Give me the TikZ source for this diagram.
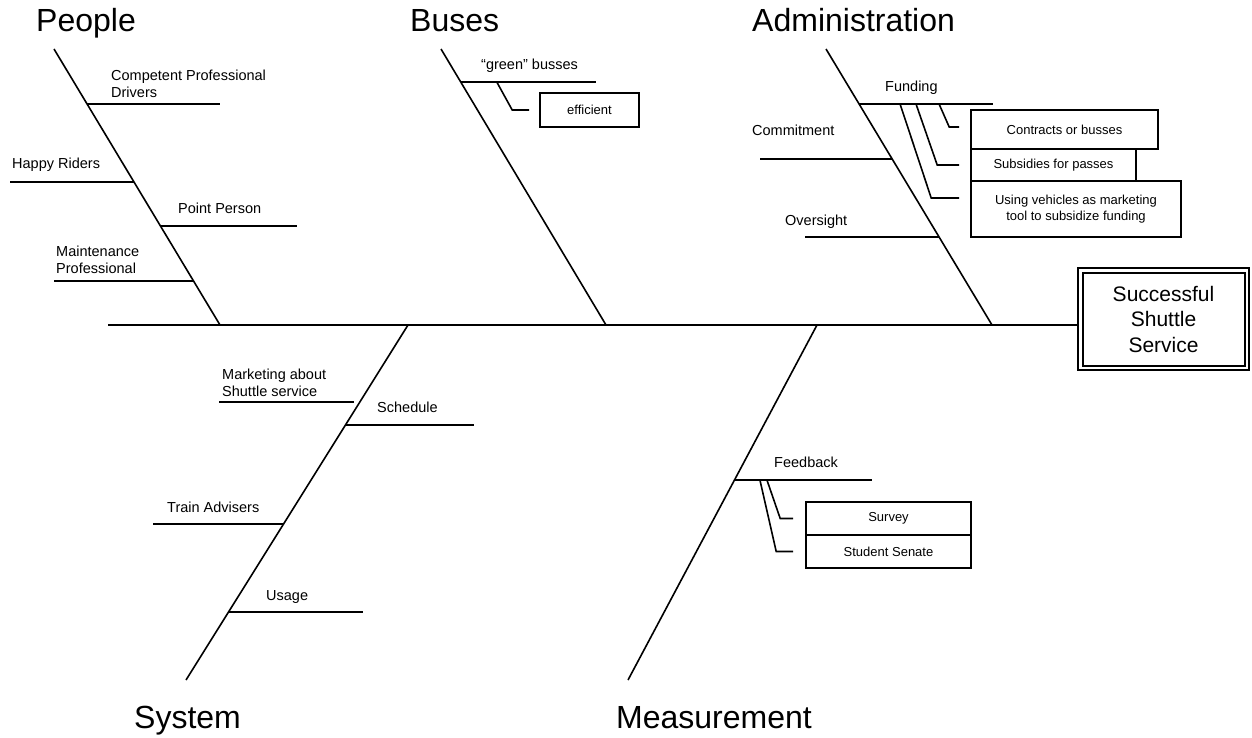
\documentclass[tikz,border=0pt]{standalone}
\usepackage{fontspec}
\setmainfont{Liberation Sans}

\begin{document}
\begin{tikzpicture}[
    x=1pt, y=-1pt,
    bone/.style={line width=1.6pt},
    cat/.style={anchor=base west, inner sep=0pt, font=\fontsize{32}{38}\selectfont},
    lbl/.style={anchor=base west, inner sep=0pt, align=left, font=\fontsize{14.5}{17}\selectfont},
    cause/.style={draw, line width=1.6pt, inner sep=0pt, align=center, font=\fontsize{13}{16}\selectfont}
]
\useasboundingbox (0,0) rectangle (1252,738);

% effect box and spine
\node[draw, double, line width=2pt, double distance=2.5pt, minimum width=166.5pt, minimum height=97.5pt,
      align=center, font=\fontsize{21}{25.5}\selectfont] (effect) at (1163.5,319) {Successful\\Shuttle\\Service};
\draw[bone] (108,325) coordinate (tail) -- ([yshift=-6pt]effect.west);

% main bones
\draw[bone] (54,49) -- (220,325) coordinate[pos=.199] (pe1) coordinate[pos=.482] (pe2)
    coordinate[pos=.641] (pe3) coordinate[pos=.841] (pe4);
\draw[bone] (441,49) -- (606,325) coordinate[pos=.12] (bu1);
\draw[bone] (826,49) -- (992,325) coordinate[pos=.199] (ad1) coordinate[pos=.399] (ad2)
    coordinate[pos=.681] (ad3);
\draw[bone] (408,325) -- (186,680) coordinate[pos=.217] (sy1) coordinate[pos=.2817] (sy2)
    coordinate[pos=.5606] (sy3) coordinate[pos=.8085] (sy4);
\draw[bone] (817,325) -- (628,680) coordinate[pos=.4366] (me1);

% category titles
\node[cat] (tPeople) at (36,32) {People};
\node[cat] (tBuses) at (410,32) {Buses};
\node[cat] (tAdmin) at (752,32) {Administration};
\node[cat] (tSystem) at (134,728) {System};
\node[cat] (tMeasure) at (616,728) {Measurement};

% People
\draw[bone] (pe1) -- ++(133,0);
\draw[bone] (pe2) -- ++(-124,0);
\draw[bone] (pe3) -- ++(136.6,0);
\draw[bone] (pe4) -- ++(-139.6,0);
\node[lbl] (drivers) at (111,98) {Competent Professional\\Drivers};
\node[lbl] (riders) at (12,169) {Happy Riders};
\node[lbl] (point) at (178,213) {Point Person};
\node[lbl] (maint) at (56,273) {Maintenance\\Professional};

% Buses
\draw[bone] (bu1) -- ++(135,0) coordinate[pos=.267] (gr1);
\node[lbl] (green) at (481,70) {“green” busses};
\node[cause, minimum width=99pt, minimum height=34pt] (eff) at (589.5,110) {efficient};
\draw[bone] (gr1) -- ([xshift=-27pt]eff.west) -- ([xshift=-10pt]eff.west);

% Administration
\draw[bone] (ad1) -- ++(134,0) coordinate[pos=.306] (fu1) coordinate[pos=.425] (fu2)
    coordinate[pos=.597] (fu3);
\draw[bone] (ad2) -- ++(-132,0);
\draw[bone] (ad3) -- ++(-134,0);
\node[lbl] (funding) at (885,92) {Funding};
\node[lbl] (commit) at (752,136) {Commitment};
\node[lbl] (oversight) at (785,225) {Oversight};
\node[cause, minimum width=187pt, minimum height=39pt] (contracts) at (1064.5,129.5) {Contracts or busses};
\node[cause, minimum width=165pt, minimum height=32pt] (subsidies) at (1053.5,165) {Subsidies for passes};
\node[cause, minimum width=210pt, minimum height=56pt] (vehicles) at (1076,209) {Using vehicles as marketing\\tool to subsidize funding};
\draw[bone] (fu3) -- ([xshift=-21pt,yshift=2.5pt]contracts.west) -- ([xshift=-11pt,yshift=2.5pt]contracts.west);
\draw[bone] (fu2) -- ([xshift=-33pt]subsidies.west) -- ([xshift=-11pt]subsidies.west);
\draw[bone] (fu1) -- ([xshift=-39pt,yshift=11pt]vehicles.west) -- ([xshift=-11pt,yshift=11pt]vehicles.west);

% System
\draw[bone] ([xshift=-6pt]sy1) -- ++(-135,0);
\draw[bone] (sy2) -- ++(128.5,0);
\draw[bone] (sy3) -- ++(-130.5,0);
\draw[bone] (sy4) -- ++(134.5,0);
\node[lbl] (marketing) at (222,396) {Marketing about\\Shuttle service};
\node[lbl] (schedule) at (377,412) {Schedule};
\node[lbl] (advisers) at (167,512) {Train Advisers};
\node[lbl] (usage) at (266,600) {Usage};

% Measurement
\draw[bone] (me1) -- ++(137.5,0) coordinate[pos=.185] (fb1) coordinate[pos=.236] (fb2);
\node[lbl] (feedback) at (774,467) {Feedback};
\node[cause, minimum width=165pt, minimum height=33pt] (survey) at (888.5,518.5) {Survey};
\node[cause, minimum width=165pt, minimum height=33pt] (senate) at (888.5,551.5) {Student Senate};
\draw[bone] (fb2) -- ([xshift=-25pt]survey.west) -- ([xshift=-12pt]survey.west);
\draw[bone] (fb1) -- ([xshift=-29pt]senate.west) -- ([xshift=-12pt]senate.west);
\end{tikzpicture}
\end{document}
